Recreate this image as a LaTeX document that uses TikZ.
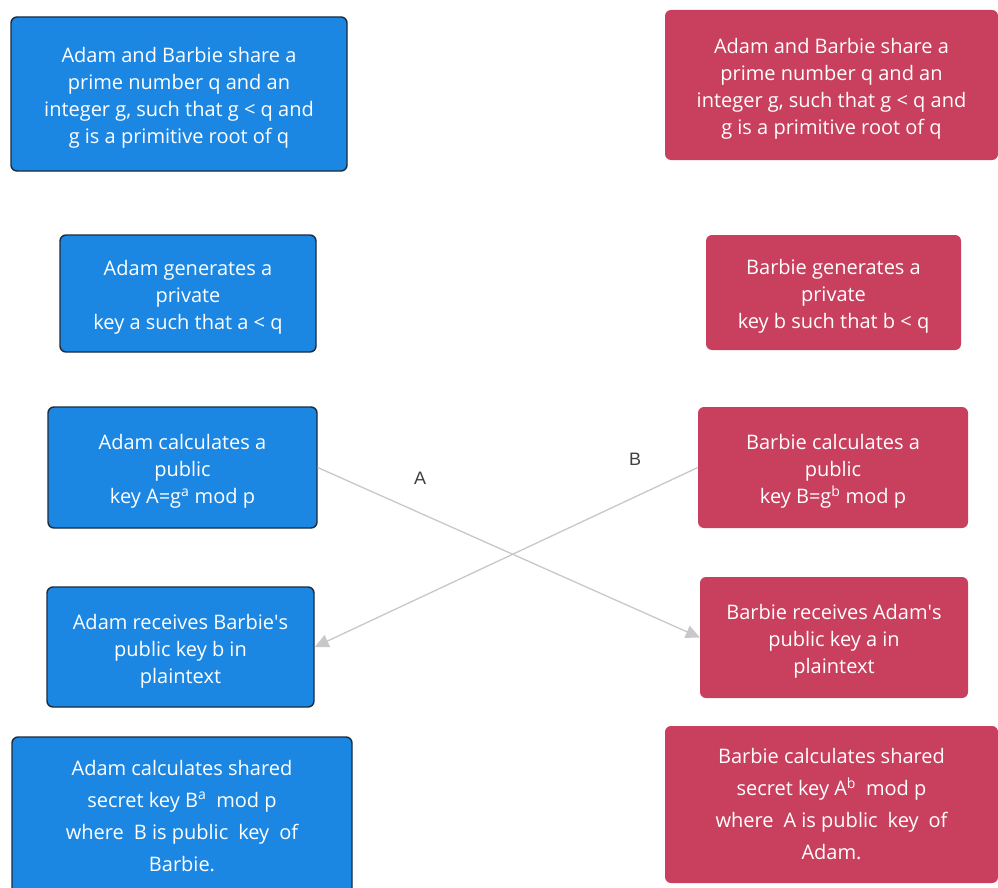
\documentclass[tikz,border=0pt]{standalone}
\usepackage{fontspec}
\setmainfont{Open Sans}
\newfontfamily\labelfont{Liberation Sans}
\usetikzlibrary{arrows.meta}
\definecolor{adamblue}{HTML}{1C87E3}
\definecolor{adamedge}{HTML}{1B2B3F}
\definecolor{barbiered}{HTML}{C8405E}
\definecolor{linkgray}{HTML}{C8C8C8}
\begin{document}
\begin{tikzpicture}[x=1pt,y=-1pt,
    box/.style={rounded corners=6pt,align=center,text=white,inner sep=0pt,
        font=\fontsize{20}{27}\selectfont},
    adam/.style={box,fill=adamblue,draw=adamedge,line width=1.4pt},
    barbie/.style={box,fill=barbiered},
    link/.style={draw=linkgray,line width=1.3pt,-{Triangle[length=14pt,width=13pt]}},
    tag/.style={font=\labelfont\fontsize{18}{18}\selectfont,text=black!75}]

\clip (0,0) rectangle (998,888);
\fill[white] (0,0) rectangle (998,888);

% Adam
\node[adam,minimum width=336pt,minimum height=154pt] (adamShare) at (179,94)
    {\rule{0pt}{23pt}Adam and Barbie share a\\prime number q and an\\integer g, such that g < q and\\g is a primitive root of q};
\node[adam,minimum width=256pt,minimum height=117pt] (adamPrivate) at (188,293.5)
    {\rule{0pt}{23pt}Adam generates a\\private\\key a such that a < q};
\node[adam,minimum width=269pt,minimum height=121pt] (adamPublic) at (182.5,467.5)
    {\rule{0pt}{23pt}Adam calculates a\\public\\key A=g\textsuperscript{a} mod p};
\node[adam,minimum width=267pt,minimum height=120pt] (adamGets) at (180.5,647)
    {\rule{0pt}{23pt}Adam receives Barbie\textquotesingle s\\public key b in\\plaintext};
\node[adam,minimum width=340pt,minimum height=158pt,font=\fontsize{20}{32}\selectfont] (adamSecret) at (182,816)
    {Adam calculates shared\\secret key B\textsuperscript{a}\enspace mod p\\where\enspace B is public\enspace key\enspace of\\Barbie.};

% Barbie
\node[barbie,minimum width=333pt,minimum height=150pt] (barbieShare) at (831.5,85)
    {\rule{0pt}{23pt}Adam and Barbie share a\\prime number q and an\\integer g, such that g < q and\\g is a primitive root of q};
\node[barbie,minimum width=255pt,minimum height=115pt] (barbiePrivate) at (833.5,292.5)
    {\rule{0pt}{23pt}Barbie generates a\\private\\key b such that b < q};
\node[barbie,minimum width=270pt,minimum height=121pt] (barbiePublic) at (833,467.5)
    {\rule{0pt}{23pt}Barbie calculates a\\public\\key B=g\textsuperscript{b} mod p};
\node[barbie,minimum width=268pt,minimum height=121pt] (barbieGets) at (834,637.5)
    {\rule{0pt}{23pt}Barbie receives Adam\textquotesingle s\\public key a in\\plaintext};
\node[barbie,minimum width=333pt,minimum height=157pt,font=\fontsize{20}{32}\selectfont] (barbieSecret) at (831.5,804.5)
    {Barbie calculates shared\\secret key A\textsuperscript{b}\enspace mod p\\where\enspace A is public\enspace key\enspace of\\Adam.};

% exchange
\draw[link] (adamPublic.east) -- (barbieGets.west);
\draw[link] (barbiePublic.west) -- (adamGets.east);
\node[tag] (tagA) at (420,478) {A};
\node[tag] (tagB) at (635,459) {B};

\end{tikzpicture}
\end{document}
